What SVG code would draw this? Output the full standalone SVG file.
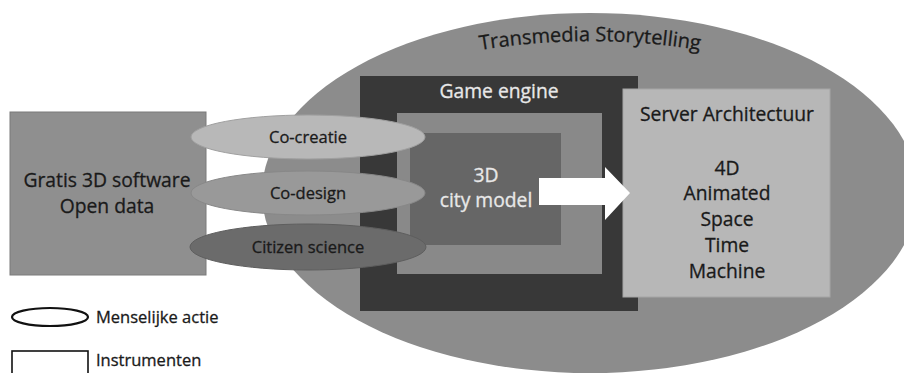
<svg xmlns="http://www.w3.org/2000/svg" width="904" height="373" viewBox="0 0 904 373">
<style>
  text { font-family: "Open Sans", "Liberation Sans", sans-serif; fill: #1a1a1a; stroke: #1a1a1a; stroke-width: 0.3; }
  .big { font-size: 19.3px; }
  .mid { font-size: 16.5px; }
  .arc { font-size: 20px; }
  .light { fill: #e8e8e8; stroke: #e8e8e8; }
  .c { text-anchor: middle; }
</style>
<defs>
  <path id="arc" d="M 430 60 A 689 689 0 0 1 750 60" fill="none"/>
</defs>
<rect width="904" height="373" fill="#ffffff"/>
<g id="transmedia">
  <ellipse cx="590" cy="193" rx="328" ry="180" fill="#8c8c8c"/>
  <text class="arc"><textPath href="#arc" startOffset="50%" text-anchor="middle">Transmedia Storytelling</textPath></text>
</g>
<g id="gratis">
  <rect x="10" y="112" width="196" height="163" fill="#8f8f8f" stroke="#7a7a7a" stroke-width="1"/>
  <text class="big c" x="107" y="187">Gratis 3D software</text>
  <text class="big c" x="107" y="213">Open data</text>
</g>
<g id="game-engine">
  <rect x="360" y="76" width="278" height="235" fill="#383838"/>
  <text class="big c light" x="499" y="98">Game engine</text>
  <rect x="397" y="113" width="205" height="161" fill="#898989"/>
</g>
<g id="city-model">
  <rect x="410" y="133" width="151" height="112" fill="#666666"/>
  <text class="big c light" x="486" y="182">3D</text>
  <text class="big c light" x="486" y="207">city model</text>
</g>
<g id="server">
  <rect x="623" y="89" width="207" height="208" fill="#b7b7b7" stroke="#a5a5a5" stroke-width="1"/>
  <text class="big c" x="727" y="121">Server Architectuur</text>
  <text class="big c" x="727" y="175">4D</text>
  <text class="big c" x="727" y="200">Animated</text>
  <text class="big c" x="727" y="226">Space</text>
  <text class="big c" x="727" y="252">Time</text>
  <text class="big c" x="727" y="278">Machine</text>
</g>
<g id="connectors">
  <polygon points="539,178 605,178 605,167 630,193 605,220 605,205 539,205" fill="#ffffff"/>
</g>
<g id="co-creatie">
  <ellipse cx="308" cy="137" rx="117" ry="22" fill="#b8b8b8" stroke="#a0a0a0" stroke-width="1"/>
  <text class="mid c" x="308" y="143">Co-creatie</text>
</g>
<g id="co-design">
  <ellipse cx="308" cy="193" rx="117" ry="22" fill="#999999" stroke="#888888" stroke-width="1"/>
  <text class="mid c" x="308" y="199">Co-design</text>
</g>
<g id="citizen-science">
  <ellipse cx="308" cy="247" rx="118" ry="23" fill="#6b6b6b" stroke="#5e5e5e" stroke-width="1"/>
  <text class="mid c" x="308" y="253">Citizen science</text>
</g>
<g id="legend-actie">
  <ellipse cx="50" cy="317" rx="38" ry="9" fill="#ffffff" stroke="#111111" stroke-width="2.2"/>
  <text class="mid" x="96" y="323">Menselijke actie</text>
</g>
<g id="legend-instrumenten">
  <rect x="12" y="351" width="76" height="30" fill="#ffffff" stroke="#111111" stroke-width="1.6"/>
  <text class="mid" x="96" y="366">Instrumenten</text>
</g>
</svg>
